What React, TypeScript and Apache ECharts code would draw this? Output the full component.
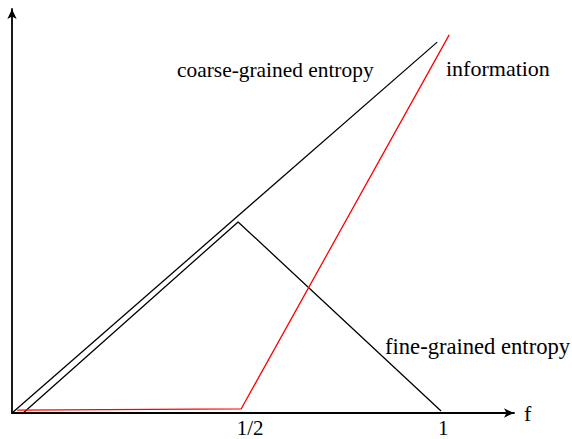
import React, { useEffect, useRef } from "react";
import * as echarts from "echarts";

// f values (horizontal) and quantity values (vertical)
const coarseF = [0, 0.991];
const coarseY = [0, 0.918];
const fineF = [0.026, 0.527, 1.0];
const fineY = [0, 0.473, 0.005];
const infoF = [0.012, 0.534, 1.019];
const infoY = [0.007, 0.01, 0.936];

const xTickValues = [0.555, 1.005];
const xTickLabels = ["1/2", "1"];
const curveLabels = ["coarse-grained entropy", "information", "fine-grained entropy"];
const axisName = "f";

const FONT = '"Liberation Serif", "Times New Roman", serif';

function pairs(xs: number[], ys: number[]) {
  return xs.map((x, i) => [x, ys[i]]);
}

export default function App() {
  const ref = useRef<HTMLDivElement>(null);
  useEffect(() => {
    if (!ref.current) return;
    const chart = echarts.init(ref.current, null, { renderer: "svg" });
    const tickMap: Record<string, string> = {};
    xTickValues.forEach((v, i) => (tickMap[String(v)] = xTickLabels[i]));
    chart.setOption({
      animation: false,
      backgroundColor: "#ffffff",
      grid: { left: 12, right: 58, top: 9, bottom: 26 },
      xAxis: {
        type: "value",
        min: 0,
        max: 1.17,
        name: axisName,
        nameLocation: "end",
        nameGap: 10,
        nameTextStyle: { fontFamily: FONT, fontSize: 22, color: "#000", verticalAlign: "middle" },
        axisLine: {
          onZero: false,
          symbol: ["none", "arrow"],
          symbolSize: [7, 10],
          lineStyle: { color: "#000", width: 1.8 },
        },
        axisTick: { show: false },
        splitLine: { show: false },
        axisLabel: {
          customValues: xTickValues,
          formatter: (v: number) => tickMap[String(v)] ?? "",
          fontFamily: FONT,
          fontSize: 21,
          color: "#000",
          margin: 4,
        },
      },
      yAxis: {
        type: "value",
        min: 0,
        max: 1,
        axisLine: {
          show: true,
          onZero: false,
          symbol: ["none", "arrow"],
          symbolSize: [7, 10],
          lineStyle: { color: "#000", width: 1.8 },
        },
        axisTick: { show: false },
        axisLabel: { show: false },
        splitLine: { show: false },
      },
      series: [
        {
          type: "line",
          data: pairs(coarseF, coarseY),
          symbol: "none",
          lineStyle: { color: "#000", width: 1.3 },
        },
        {
          type: "line",
          data: pairs(fineF, fineY),
          symbol: "none",
          lineStyle: { color: "#000", width: 1.3 },
        },
        {
          type: "line",
          data: pairs(infoF, infoY),
          symbol: "none",
          lineStyle: { color: "#ff0000", width: 1.3 },
        },
      ],
      graphic: [
        {
          type: "text",
          x: 177,
          y: 70,
          style: { text: curveLabels[0], font: `21.4px ${FONT}`, fill: "#000", align: "left", verticalAlign: "middle" },
        },
        {
          type: "text",
          x: 446,
          y: 68,
          style: { text: curveLabels[1], font: `22px ${FONT}`, fill: "#000", align: "left", verticalAlign: "middle" },
        },
        {
          type: "text",
          x: 385,
          y: 346,
          style: { text: curveLabels[2], font: `22.6px ${FONT}`, fill: "#000", align: "left", verticalAlign: "middle" },
        },
      ],
    });
    return () => chart.dispose();
  }, []);
  return (
    <div
      ref={ref}
      style={{ position: "absolute", left: 0, top: 0, width: 572, height: 439, background: "#fff" }}
    />
  );
}
